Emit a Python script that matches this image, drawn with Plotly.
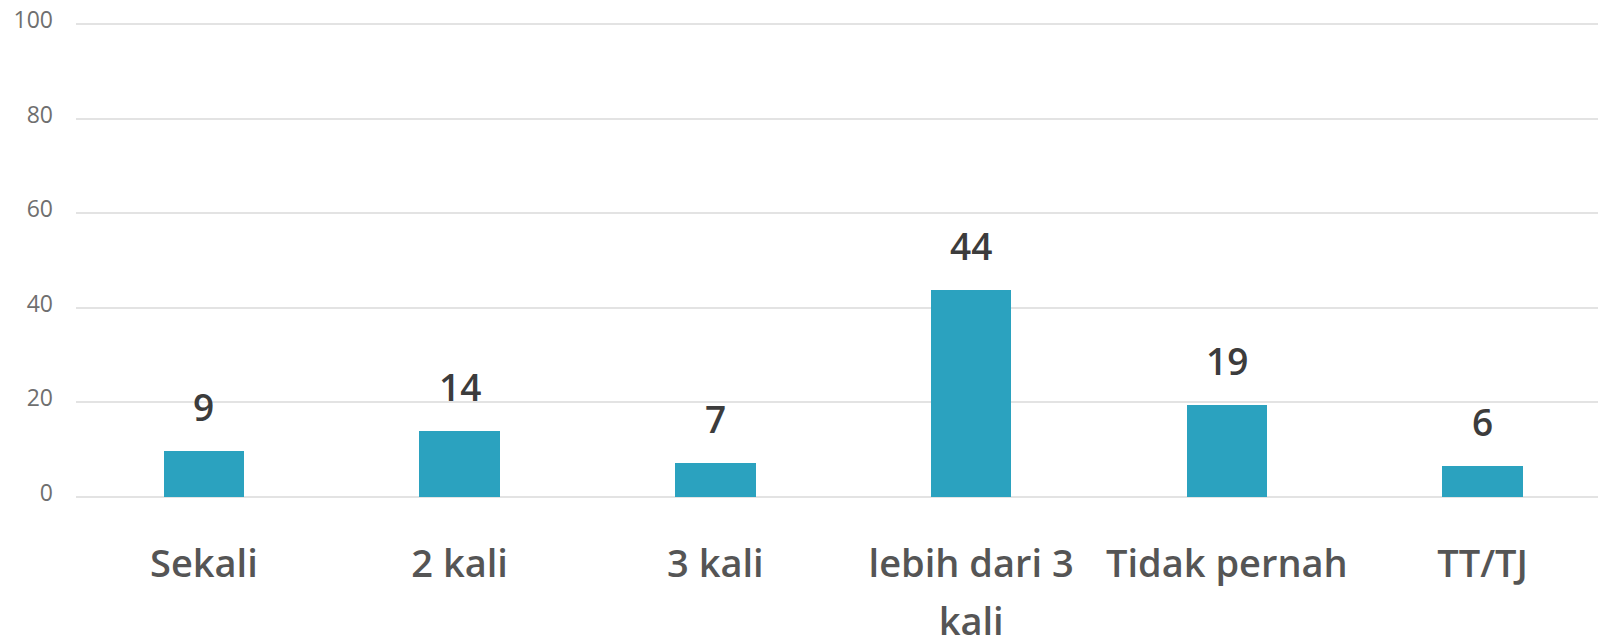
import plotly.graph_objects as go

categories = ["Sekali", "2 kali", "3 kali", "lebih dari 3<br>kali", "Tidak pernah", "TT/TJ"]
values = [9.6, 13.9, 7.1, 43.8, 19.4, 6.6]
value_labels = ["9", "14", "7", "44", "19", "6"]
y_ticks = [0, 20, 40, 60, 80, 100]

BAR_COLOR = "#2ba2bf"
FONT = "Open Sans"

x_idx = list(range(len(categories)))

fig = go.Figure()
fig.add_trace(go.Bar(
    x=x_idx,
    y=values,
    width=0.314,
    marker=dict(color=BAR_COLOR, line=dict(width=0)),
    hoverinfo="skip",
))

for xi, v, lab in zip(x_idx, values, value_labels):
    fig.add_annotation(
        x=xi, y=v, text=lab, showarrow=False,
        xanchor="center", yanchor="bottom", yshift=17,
        font=dict(family=FONT, size=37, color="#3c3c3c", weight=600),
    )

ticktext = [f"<span style='font-size:38px'>{c}</span>".replace("<br>", "</span><br><span style='font-size:38px'>") for c in categories]

# the page body adds an 8px offset, so the figure is 8px smaller on each side
fig.update_layout(
    width=1598, height=632,
    margin=dict(l=68, r=0, t=15, b=142, autoexpand=False),
    paper_bgcolor="white", plot_bgcolor="white",
    showlegend=False,
    bargap=0,
    xaxis=dict(
        range=[-0.5, 5.4824],
        tickmode="array", tickvals=x_idx, ticktext=ticktext,
        tickfont=dict(family=FONT, size=44.6, color="#555555", weight=600),
        showgrid=False, zeroline=False, showline=False, ticks="",
        ticklabelstandoff=33, automargin=False, ticklabeloverflow="allow",
        fixedrange=True,
    ),
    yaxis=dict(
        range=[-0.25, 100.25],
        tickmode="array", tickvals=y_ticks,
        tickfont=dict(family=FONT, size=23, color="#6f6f6f"),
        showgrid=True, gridcolor="#e3e3e3", gridwidth=2,
        zeroline=False, showline=False, ticks="",
        ticklabelstandoff=22, ticklabelshift=-4, automargin=False,
        ticklabeloverflow="allow",
        fixedrange=True,
    ),
)

fig.write_html("out.html")
